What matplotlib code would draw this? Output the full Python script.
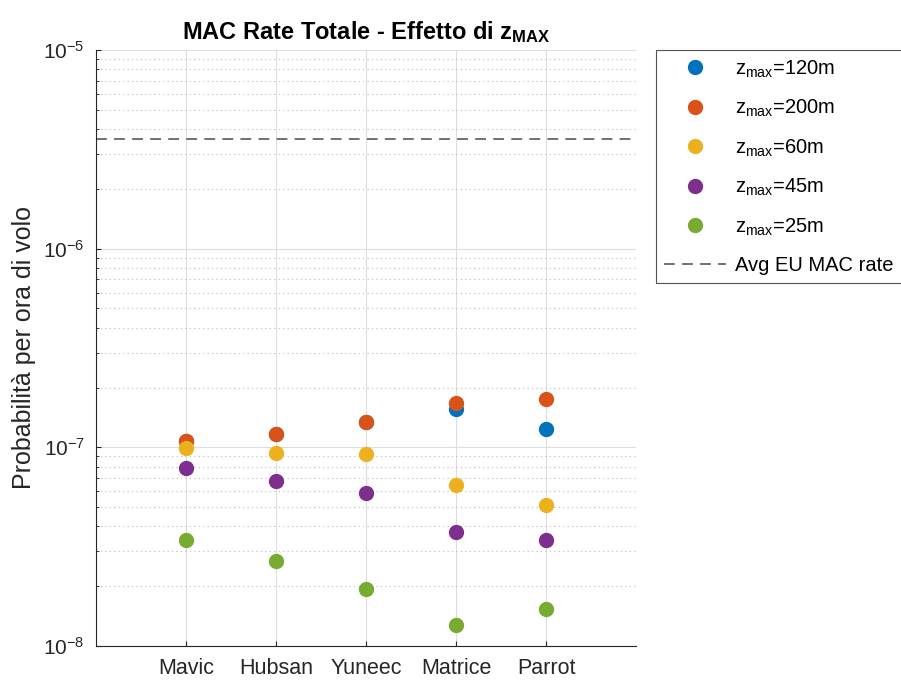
import numpy as np
import matplotlib
matplotlib.use('Agg')
import matplotlib.pyplot as plt
from matplotlib.ticker import LogLocator, NullFormatter, FuncFormatter

plt.rcParams['font.family'] = ['Liberation Sans', 'DejaVu Sans']
plt.rcParams['mathtext.fontset'] = 'custom'
plt.rcParams['mathtext.rm'] = 'Liberation Sans'
plt.rcParams['mathtext.it'] = 'Liberation Sans'
plt.rcParams['mathtext.bf'] = 'Liberation Sans:bold'
plt.rcParams['axes.unicode_minus'] = False

drones = ['Mavic', 'Hubsan', 'Yuneec', 'Matrice', 'Parrot']

# blue is hidden behind orange for the first three drones
z120 = [1.08e-7, 1.17e-7, 1.34e-7, 1.56e-7, 1.24e-7]
z200 = [1.08e-7, 1.17e-7, 1.34e-7, 1.67e-7, 1.75e-7]
z60 = [9.9e-8, 9.4e-8, 9.3e-8, 6.45e-8, 5.1e-8]
z45 = [7.9e-8, 6.75e-8, 5.9e-8, 3.75e-8, 3.4e-8]
z25 = [3.42e-8, 2.69e-8, 1.94e-8, 1.27e-8, 1.54e-8]

series = [z120, z200, z60, z45, z25]
labels = ['120m', '200m', '60m', '45m', '25m']
colors = ['#0072BD', '#D95319', '#EDB120', '#7E2F8E', '#77AC30']

eu_mac = 3.56e-6

fig = plt.figure(figsize=(9.01, 6.82), dpi=100)
ax = fig.add_axes([0.1065, 0.0528, 0.5994, 0.8739])

x = np.arange(1, len(drones) + 1)
for vals, lab, c in zip(series, labels, colors):
	ax.plot(x, vals, 'o', color=c, markersize=10, linestyle='none',
		label=r'$\mathregular{z_{max}}$=' + lab)
ax.axhline(eu_mac, color='#666666', linestyle=(0, (6, 4)), linewidth=1.3,
	label='Avg EU MAC rate')

ax.set_yscale('log')
ax.set_ylim(1e-8, 1e-5)
ax.set_xlim(0, 6)
ax.set_xticks(x)
ax.set_xticklabels(drones)
ax.yaxis.set_major_locator(LogLocator(base=10, numticks=10))
ax.yaxis.set_major_formatter(FuncFormatter(
	lambda v, p: r'$\mathregular{10^{%d}}$' % int(round(np.log10(v)))))
ax.yaxis.set_minor_locator(LogLocator(base=10, subs=np.arange(2, 10), numticks=20))
ax.yaxis.set_minor_formatter(NullFormatter())

ax.grid(True, which='major', color='#dddddd', linewidth=0.8)
ax.grid(True, which='minor', axis='y', color='#bbbbbb', linestyle=(0, (1, 3)), linewidth=0.8)
ax.set_axisbelow(True)

for s in ['top', 'right']:
	ax.spines[s].set_visible(False)
for s in ['left', 'bottom']:
	ax.spines[s].set_color('#262626')
ax.tick_params(axis='both', which='both', direction='in', colors='#262626', labelsize=15)
ax.tick_params(axis='x', labelsize=15.5, pad=9)
ax.tick_params(axis='y', which='minor', length=2)
ax.tick_params(axis='y', pad=8)

ax.set_ylabel('Probabilità per ora di volo', fontsize=18, color='#262626', labelpad=5)
ax.set_title(r'MAC Rate Totale - Effetto di $\mathbf{z_{MAX}}$', fontsize=17,
	fontweight='bold', pad=8)

leg = ax.legend(loc='upper left', bbox_to_anchor=(0.728, 0.926),
	bbox_transform=fig.transFigure, fontsize=14.5, frameon=True, fancybox=False,
	edgecolor='#262626', handlelength=3.1, handletextpad=0.45, labelspacing=0.9,
	borderpad=0.4, borderaxespad=0)
leg.get_frame().set_linewidth(0.8)

fig.savefig('out.png', dpi=100)
